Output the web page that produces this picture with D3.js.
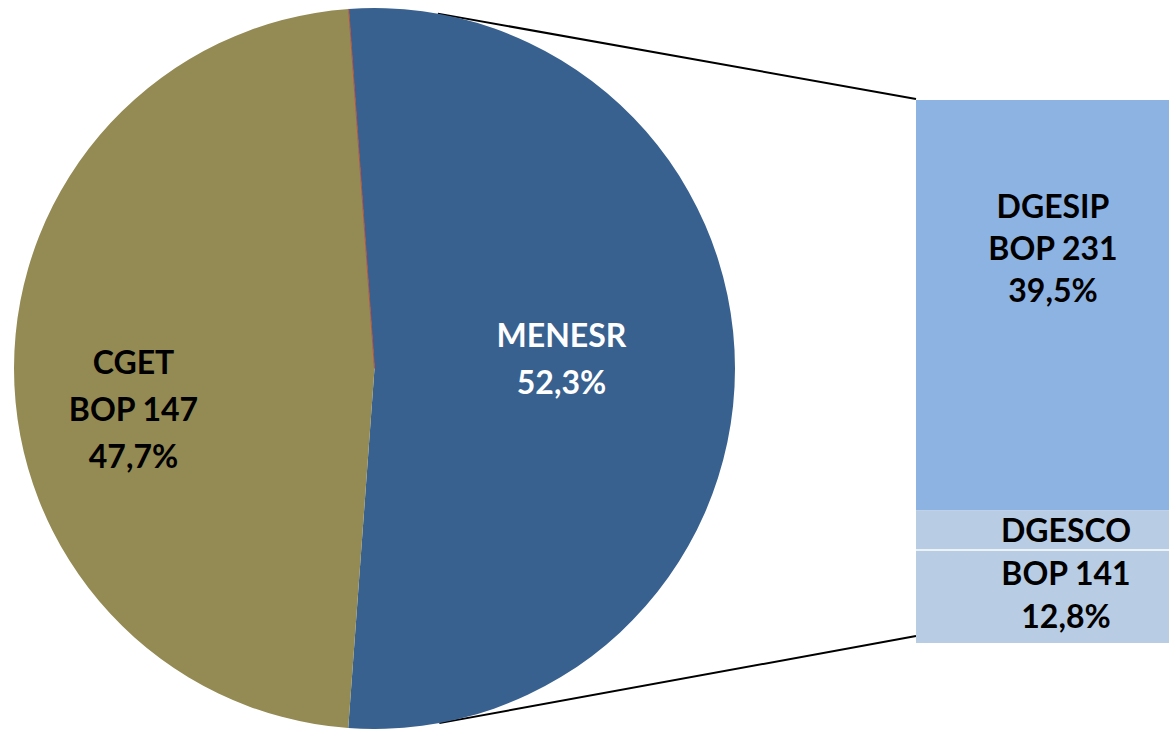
<!DOCTYPE html>
<html>
<head>
<meta charset="utf-8">
<script src="https://cdn.jsdelivr.net/npm/d3@7"></script>
<style>
  html, body { margin: 0; padding: 0; background: #fff; overflow: hidden; }
  text { font-family: Lato, "Open Sans", sans-serif; font-weight: bold; }
</style>
</head>
<body>
<div id="chart"></div>
<script>
// main pie
const pieNames = ['MENESR', 'CGET'];
const pieLines = [['MENESR', '52,3%'], ['CGET', 'BOP 147', '47,7%']];
const pieValues = [52.3, 47.7];

// bar that splits MENESR
const barNames = ['DGESIP', 'DGESCO'];
const barLines = [['DGESIP', 'BOP 231', '39,5%'], ['DGESCO', 'BOP 141', '12,8%']];
const barValues = [39.5, 12.8];

const width = 1169;
const height = 729;
const cx = 374.5, cy = 368.5, radius = 360.5;
const startDeg = -4.1;

const pieColors = ['#38618f', '#948a54'];
const barColors = ['#8db3e2', '#b8cce4'];

const svg = d3.select('#chart')
    .append('svg')
    .attr('width', width)
    .attr('height', height);

const barX = 916;
const barW = 280;
const yScale = d3.scaleLinear()
    .domain([0, d3.sum(barValues)])
    .range([100, 643]);

// connector lines: tangent from bar corners to the circle
function tangentPoint(px, py, upper) {
    const dx = cx - px, dy = cy - py;
    const d = Math.sqrt(dx * dx + dy * dy);
    const base = Math.atan2(dy, dx);
    const off = Math.asin(radius / d);
    const a = upper ? base + off : base - off;
    const len = Math.sqrt(d * d - radius * radius);
    return [px + len * Math.cos(a), py + len * Math.sin(a)];
}

const corners = [[barX, yScale(0) - 1, true], [barX, yScale.range()[1] - 7, false]];
corners.forEach(c => {
    const t = tangentPoint(c[0], c[1], c[2]);
    svg.append('line')
        .attr('x1', c[0]).attr('y1', c[1])
        .attr('x2', t[0]).attr('y2', t[1])
        .attr('stroke', '#000')
        .attr('stroke-width', 2);
});

const pie = d3.pie()
    .sort(null)
    .startAngle(startDeg * Math.PI / 180)
    .endAngle(startDeg * Math.PI / 180 + 2 * Math.PI);

const arc = d3.arc().innerRadius(0).outerRadius(radius);

const g = svg.append('g').attr('transform', `translate(${cx},${cy})`);

const slices = pie(pieValues);

g.selectAll('path')
    .data(slices)
    .enter()
    .append('path')
    .attr('d', arc)
    .attr('fill', (d, i) => pieColors[i]);

// thin reddish seam on the upper edge between slices
const a0 = slices[0].startAngle;
g.append('line')
    .attr('x1', 0).attr('y1', 0)
    .attr('x2', radius * Math.sin(a0)).attr('y2', -radius * Math.cos(a0))
    .attr('stroke', '#b0504a')
    .attr('stroke-width', 1);

// pie labels
const labelPos = [[187, -9], [-241, 41]];
const lineH = 47;
slices.forEach((d, i) => {
    const lines = pieLines[i];
    const t = g.append('text')
        .attr('text-anchor', 'middle')
        .attr('font-size', 32)
        .attr('fill', i === 0 ? '#fff' : '#000');
    lines.forEach((s, j) => {
        t.append('tspan')
            .attr('x', labelPos[i][0])
            .attr('y', labelPos[i][1] + (j - (lines.length - 1) / 2) * lineH + 11)
            .text(s);
    });
});

// bar segments
let acc = 0;
const segs = barValues.map(v => { const s = { y0: acc, y1: acc + v }; acc += v; return s; });

svg.selectAll('rect.seg')
    .data(segs)
    .enter()
    .append('rect')
    .attr('class', 'seg')
    .attr('x', barX)
    .attr('y', d => yScale(d.y0))
    .attr('width', barW)
    .attr('height', d => yScale(d.y1) - yScale(d.y0))
    .attr('fill', (d, i) => barColors[i]);

// white seam inside the small segment
svg.append('line')
    .attr('x1', barX).attr('x2', barX + barW)
    .attr('y1', yScale(segs[1].y0) + 40).attr('y2', yScale(segs[1].y0) + 40)
    .attr('stroke', '#fff')
    .attr('stroke-width', 1.5);

const barLabelX = [1053, 1066];
const barLabelTop = [218, 542];
const barLineH = [42, 43];
segs.forEach((d, i) => {
    const t = svg.append('text')
        .attr('text-anchor', 'middle')
        .attr('font-size', 32)
        .attr('fill', '#000');
    barLines[i].forEach((s, j) => {
        t.append('tspan')
            .attr('x', barLabelX[i])
            .attr('y', barLabelTop[i] + j * barLineH[i])
            .text(s);
    });
});
</script>
</body>
</html>
